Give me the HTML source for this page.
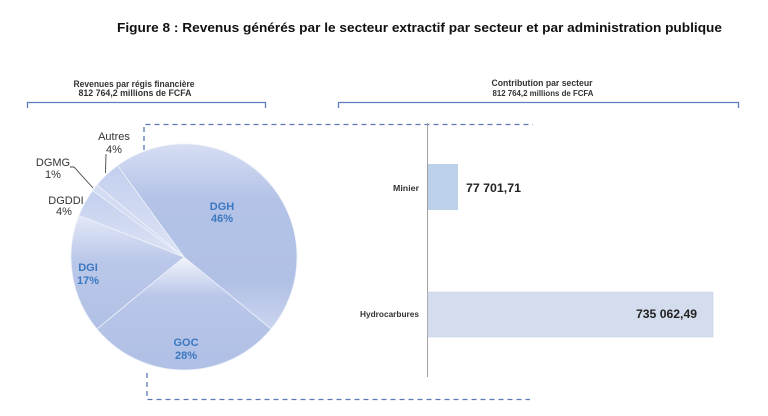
<!DOCTYPE html>
<html><head><meta charset="utf-8"><style>
html,body{margin:0;padding:0;background:#fff;}
svg{display:block;}
text{font-family:"Liberation Sans","DejaVu Sans",sans-serif;}
</style></head><body>
<svg width="768" height="416" viewBox="0 0 768 416" xmlns="http://www.w3.org/2000/svg">
<defs>
<linearGradient id="gH" x1="0" y1="0" x2="0" y2="1">
<stop offset="0" stop-color="#d6def3"/><stop offset="0.3" stop-color="#b3c2e6"/><stop offset="0.75" stop-color="#b1c0e5"/><stop offset="1" stop-color="#cbd5ef"/></linearGradient>
<linearGradient id="gO" x1="0" y1="0" x2="0" y2="1">
<stop offset="0" stop-color="#f2f4fb"/><stop offset="0.35" stop-color="#b8c6e8"/><stop offset="1" stop-color="#b0bfe5"/></linearGradient>
<linearGradient id="gI" x1="0" y1="0" x2="0" y2="1">
<stop offset="0" stop-color="#e4e9f7"/><stop offset="0.4" stop-color="#bac7e9"/><stop offset="1" stop-color="#b1c0e5"/></linearGradient>
<linearGradient id="gS" x1="0" y1="0" x2="0" y2="1">
<stop offset="0" stop-color="#c3cfee"/><stop offset="1" stop-color="#dce3f4"/></linearGradient>
</defs>

<text x="117" y="32" font-size="13" font-weight="bold" fill="#111" textLength="605" lengthAdjust="spacingAndGlyphs">Figure 8 : Revenus générés par le secteur extractif par secteur et par administration publique</text>

<!-- left header -->
<text x="134" y="87" font-size="9" font-weight="bold" fill="#333" text-anchor="middle" textLength="121" lengthAdjust="spacingAndGlyphs">Revenues par régis financière</text>
<text x="135" y="96" font-size="9" font-weight="bold" fill="#333" text-anchor="middle" textLength="113" lengthAdjust="spacingAndGlyphs">812 764,2 millions de FCFA</text>
<path d="M27.5,108 V102.5 H265.5 V108" fill="none" stroke="#5d7dc0" stroke-width="1.3"/>

<!-- right header -->
<text x="542" y="86" font-size="9" font-weight="bold" fill="#333" text-anchor="middle" textLength="101" lengthAdjust="spacingAndGlyphs">Contribution par secteur</text>
<text x="543" y="96" font-size="8" font-weight="bold" fill="#333" text-anchor="middle" textLength="101" lengthAdjust="spacingAndGlyphs">812 764,2 millions de FCFA</text>
<path d="M338.5,108 V102.5 H738.5 V108" fill="none" stroke="#5d7dc0" stroke-width="1.3"/>

<!-- dashed connectors -->
<path d="M144,150 V124.5 H533" fill="none" stroke="#5b78b8" stroke-width="1.3" stroke-dasharray="5,4"/>
<path d="M147,373 V399.5 H530" fill="none" stroke="#5b78b8" stroke-width="1.3" stroke-dasharray="5,4"/>

<!-- pie -->
<g stroke="#eef1fa" stroke-width="0.8">
<path d="M184,257 L117.58,165.58 A113,113 0 0 1 271.07,329.03 Z" fill="url(#gH)"/>
<path d="M184,257 L271.07,329.03 A113,113 0 0 1 96.93,329.03 Z" fill="url(#gO)"/>
<path d="M184,257 L96.93,329.03 A113,113 0 0 1 78.93,215.40 Z" fill="url(#gI)"/>
<path d="M184,257 L78.93,215.40 A113,113 0 0 1 92.58,190.58 Z" fill="url(#gS)"/>
<path d="M184,257 L92.58,190.58 A113,113 0 0 1 96.93,184.97 Z" fill="#d3dcf2"/>
<path d="M184,257 L96.93,184.97 A113,113 0 0 1 117.58,165.58 Z" fill="url(#gS)"/>
</g>

<g font-size="11" font-weight="bold" fill="#3a78c0" text-anchor="middle">
<text x="222" y="210">DGH</text><text x="222" y="222">46%</text>
<text x="88" y="271">DGI</text><text x="88" y="284">17%</text>
<text x="186" y="346">GOC</text><text x="186" y="359">28%</text>
</g>

<g font-size="11" fill="#333" text-anchor="middle">
<text x="114" y="140">Autres</text><text x="114" y="153">4%</text>
<text x="53" y="166">DGMG</text><text x="53" y="178">1%</text>
<text x="66" y="204">DGDDI</text><text x="64" y="215">4%</text>
</g>
<path d="M106,154 L105.5,173" stroke="#444" stroke-width="0.9" fill="none"/>
<path d="M70,167 H74 L93,188" stroke="#444" stroke-width="0.9" fill="none"/>

<!-- bar chart -->
<line x1="427.5" y1="123" x2="427.5" y2="377" stroke="#a0a0a0" stroke-width="1"/>
<rect x="428" y="164" width="30" height="46" fill="#bdd0e9"/>
<rect x="428" y="292" width="285" height="45" fill="#d4ddee" stroke="#c9d4e8" stroke-width="0.6"/>
<text x="419" y="191" font-size="8.5" font-weight="bold" fill="#333" text-anchor="end" textLength="26" lengthAdjust="spacingAndGlyphs">Minier</text>
<text x="419" y="317" font-size="8.5" font-weight="bold" fill="#333" text-anchor="end" textLength="59" lengthAdjust="spacingAndGlyphs">Hydrocarbures</text>
<text x="466" y="192" font-size="12" font-weight="bold" fill="#222" textLength="55" lengthAdjust="spacingAndGlyphs">77 701,71</text>
<text x="636" y="318" font-size="12" font-weight="bold" fill="#222" textLength="61" lengthAdjust="spacingAndGlyphs">735 062,49</text>
</svg>
</body></html>
